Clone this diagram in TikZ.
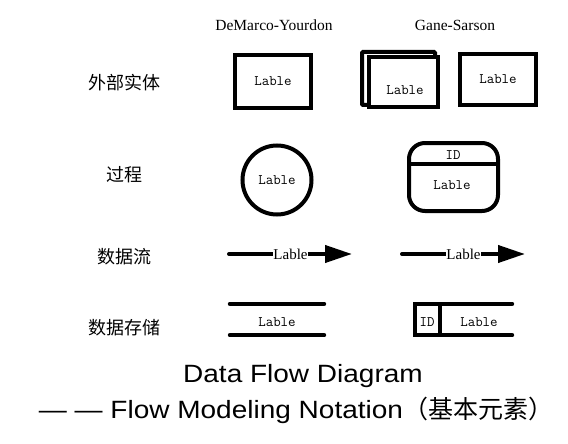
\documentclass[tikz,border=0pt]{standalone}
\usepackage{fontspec}
\setmainfont{Liberation Serif}
\newfontfamily\cjk{Noto Sans CJK SC}
\newfontfamily\titlefont{Liberation Sans}[FakeStretch=1.12]
\usetikzlibrary{arrows.meta}

\begin{document}
\begin{tikzpicture}[x=1pt, y=-1pt,
    thick line/.style={line width=4pt},
    shape box/.style={draw, thick line, rectangle, inner sep=0pt, font=\fontsize{14.5}{15}\ttfamily},
    mono text/.style={inner sep=0pt, font=\fontsize{14.5}{15}\ttfamily},
    serif text/.style={inner sep=0pt, font=\fontsize{15.5}{16}\selectfont},
    row text/.style={inner sep=0pt, font=\fontsize{18}{20}\cjk},
    flow arrow/.style={thick line, line cap=round, -{Triangle[length=27pt,width=17pt]}},
    flow text/.style={fill=white, inner sep=0.5pt, font=\fontsize{15}{16}\selectfont},
    store line/.style={thick line, line cap=round},
    title text/.style={anchor=base, inner sep=0pt, font=\fontsize{25}{30}\titlefont}
  ]
  \useasboundingbox (0,0) rectangle (568,444);

  % column headers
  \node[serif text] (dmhead) at (274,25) {DeMarco-Yourdon};
  \node[serif text] (gshead) at (455,25) {Gane-Sarson};

  % row names
  \node[row text] (entityname) at (124,83) {外部实体};
  \node[row text] (processname) at (124,175) {过程};
  \node[row text] (flowname) at (124,257) {数据流};
  \node[row text] (storename) at (124,328) {数据存储};

  % external entity
  \node[shape box, minimum width=76, minimum height=53] (dmentity) at (273,81.5) {Lable};
  \node[shape box, rounded corners=1pt, minimum width=73, minimum height=53] (gsback) at (398.5,78.5) {};
  \node[shape box, fill=white, minimum width=69, minimum height=50] (gsfront) at (403.5,82) {};
  \node[mono text] (gsfrontlbl) at (405,90) {Lable};
  \node[shape box, minimum width=76, minimum height=51] (gsentity) at (498,79.5) {Lable};

  % process
  \node[shape box, circle, minimum size=69] (dmprocess) at (277,180) {Lable};
  \node[shape box, rounded corners=16pt, minimum width=89, minimum height=68] (gsprocess) at (453.5,177) {};
  \draw[thick line] ([yshift=13pt]gsprocess.west) -- ([yshift=13pt]gsprocess.east);
  \node[mono text] (gsprocid) at (453,155) {ID};
  \node[mono text] (gsproclbl) at (452,185) {Lable};

  % data flow
  \coordinate (dmflowstart) at (229,254);
  \coordinate (dmflowend) at (352,254);
  \draw[flow arrow] (dmflowstart) -- (dmflowend) node[flow text, midway] (dmflowlbl) {Lable};
  \coordinate (gsflowstart) at (402,254);
  \coordinate (gsflowend) at (525,254);
  \draw[flow arrow] (gsflowstart) -- (gsflowend) node[flow text, midway] (gsflowlbl) {Lable};

  % data store
  \node[inner sep=0pt, minimum width=94, minimum height=31] (dmstore) at (277,319.5) {};
  \draw[store line] (dmstore.north west) -- (dmstore.north east);
  \draw[store line] (dmstore.south west) -- (dmstore.south east);
  \node[mono text] (dmstorelbl) at (277,322) {Lable};
  \node[inner sep=0pt, minimum width=97, minimum height=31] (gsstore) at (463.5,319.5) {};
  \draw[store line] (gsstore.north east) -- (gsstore.north west) -- (gsstore.south west) -- (gsstore.south east);
  \draw[thick line] ([xshift=25pt]gsstore.north west) -- ([xshift=25pt]gsstore.south west);
  \node[mono text] (gsstoreid) at (427,322) {ID};
  \node[mono text] (gsstorelbl) at (479,322) {Lable};

  % title
  \node[title text] (title) at (303,382) {Data Flow Diagram};
  \node[title text] (subtitle) at (296,418) {— — Flow Modeling Notation{\cjk（基本元素）}};
\end{tikzpicture}
\end{document}
